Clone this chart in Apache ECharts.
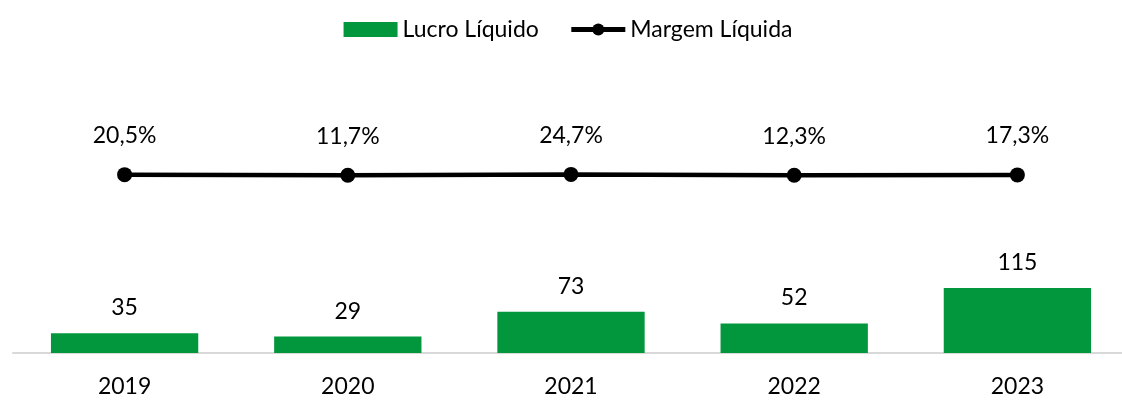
<!DOCTYPE html>
<html>
<head>
<meta charset="utf-8">
<script src="https://cdn.jsdelivr.net/npm/echarts@6/dist/echarts.min.js"></script>
<style>
  html, body { margin: 0; padding: 0; background: #fff; overflow: hidden; }
  #chart { width: 1136px; height: 400px; }
</style>
</head>
<body>
<div id="chart"></div>
<script>
// dados
var anos = ['2019', '2020', '2021', '2022', '2023'];
var lucroLiquido = [35, 29, 73, 52, 115];
var margemLiquida = [20.5, 11.7, 24.7, 12.3, 17.3];

var fonte = 'Lato, "Open Sans", sans-serif';
var tam = 23;
var chart = echarts.init(document.getElementById('chart'));

chart.setOption({
  animation: false,
  textStyle: { fontFamily: fonte, color: '#000' },
  legend: {
    top: 13,
    left: 'center',
    itemGap: 30,
    itemWidth: 54,
    itemHeight: 15,
    textStyle: { fontSize: tam, color: '#000', fontFamily: fonte },
    data: [
      { name: 'Lucro Líquido', icon: 'rect' },
      { name: 'Margem Líquida', lineStyle: { width: 5 } }
    ]
  },
  grid: { left: 13, right: 7, top: 70, bottom: 47 },
  xAxis: {
    type: 'category',
    data: anos,
    axisTick: { show: false },
    axisLine: { lineStyle: { color: '#d9d9d9', width: 2 } },
    axisLabel: { fontSize: tam, color: '#000', margin: 22, fontFamily: fonte }
  },
  yAxis: [
    { type: 'value', min: 0, max: 500, show: false, splitLine: { show: false } },
    { type: 'value', min: -2500, max: 1500, show: false, splitLine: { show: false } }
  ],
  series: [
    {
      name: 'Lucro Líquido',
      type: 'bar',
      data: lucroLiquido,
      barWidth: '66%',
      itemStyle: { color: '#03973d' },
      label: {
        show: true,
        position: 'top',
        distance: 14,
        fontSize: tam,
        color: '#000',
        fontFamily: fonte
      }
    },
    {
      name: 'Margem Líquida',
      type: 'line',
      yAxisIndex: 1,
      data: margemLiquida,
      symbol: 'circle',
      symbolSize: 15,
      lineStyle: { color: '#000', width: 4.5 },
      itemStyle: { color: '#000' },
      label: {
        show: true,
        position: 'top',
        distance: 20,
        fontSize: tam,
        color: '#000',
        fontFamily: fonte,
        formatter: function (p) { return p.value.toFixed(1).replace('.', ',') + '%'; }
      }
    }
  ]
});
</script>
</body>
</html>
